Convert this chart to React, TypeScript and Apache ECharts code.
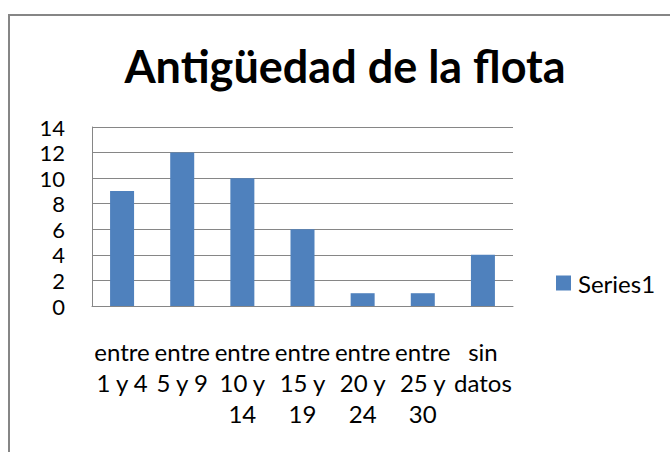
import React, { useEffect, useRef } from "react";
import * as echarts from "echarts";

const title = "Antigüedad de la flota";
const categories = [
  "entre\n1 y 4",
  "entre\n5 y 9",
  "entre\n10 y\n14",
  "entre\n15 y\n19",
  "entre\n20 y\n24",
  "entre\n25 y\n30",
  "sin\ndatos",
];
const seriesName = "Series1";
const values = [9, 12, 10, 6, 1, 1, 4];
const yMin = 0;
const yMax = 14;
const yStep = 2;

const FONT = "Lato, 'Open Sans', sans-serif";

export default function App() {
  const ref = useRef<HTMLDivElement>(null);
  useEffect(() => {
    if (!ref.current) return;
    const chart = echarts.init(ref.current, undefined, { renderer: "svg" });
    chart.setOption({
      animation: false,
      backgroundColor: "#ffffff",
      title: {
        text: title,
        left: 345,
        top: 43,
        padding: 0,
        textAlign: "center",
        textStyle: { fontFamily: FONT, fontWeight: "bold", fontSize: 45, color: "#000" },
      },
      legend: {
        left: 556,
        top: 271,
        padding: 0,
        itemWidth: 15,
        itemHeight: 15,
        icon: "rect",
        textStyle: { fontFamily: FONT, fontSize: 24, color: "#000", padding: [0, 0, 0, 2] },
        data: [seriesName],
      },
      grid: { left: 92, top: 127, right: 157, bottom: 146, containLabel: false },
      xAxis: {
        type: "category",
        data: categories,
        axisLine: { show: true, lineStyle: { color: "#868686", width: 1 } },
        axisTick: { show: false },
        axisLabel: {
          interval: 0,
          margin: 30,
          lineHeight: 31,
          fontFamily: FONT,
          fontSize: 24,
          color: "#000",
        },
      },
      yAxis: {
        type: "value",
        min: yMin,
        max: yMax,
        interval: yStep,
        axisLine: { show: true, lineStyle: { color: "#868686", width: 1 } },
        axisTick: { show: false },
        splitLine: { show: true, lineStyle: { color: "#868686", width: 1 } },
        axisLabel: { margin: 27, fontFamily: FONT, fontSize: 22, color: "#000" },
      },
      series: [
        {
          name: seriesName,
          type: "bar",
          data: values,
          barWidth: 24,
          itemStyle: { color: "#4F81BD" },
        },
      ],
      graphic: [
        {
          type: "rect",
          shape: { x: 9, y: 15, width: 720, height: 500 },
          style: { fill: "none", stroke: "#868686", lineWidth: 2 },
          silent: true,
        },
      ],
    });
    return () => chart.dispose();
  }, []);
  return (
    <div
      ref={ref}
      style={{ position: "absolute", left: 0, top: 0, width: 670, height: 452 }}
    />
  );
}
